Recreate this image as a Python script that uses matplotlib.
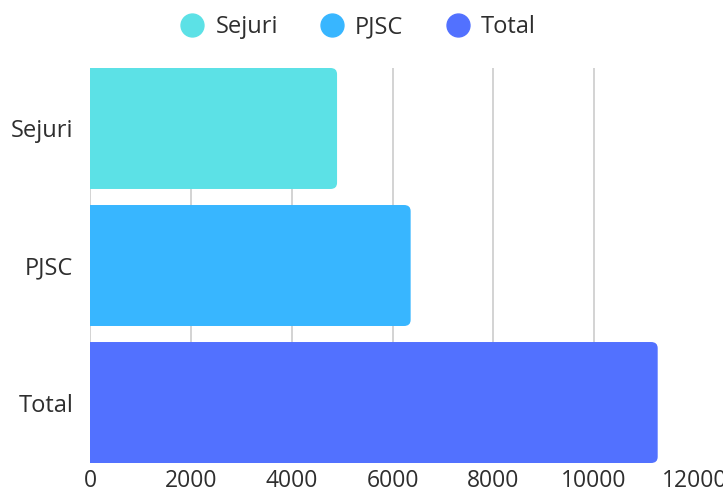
import matplotlib
matplotlib.use("Agg")
import matplotlib.pyplot as plt
from matplotlib.patches import FancyBboxPatch
from matplotlib.lines import Line2D

categories = ["Sejuri", "PJSC", "Total"]
values = [4900, 6360, 11260]
colors = ["#5ce1e6", "#38b6ff", "#5271ff"]
xticks = [0, 2000, 4000, 6000, 8000, 10000, 12000]

plt.rcParams['font.family'] = ['Open Sans', 'DejaVu Sans']

fig = plt.figure(figsize=(7.23, 4.93), dpi=100)
ax = fig.add_axes([90/723, 1-463/493, (695-90)/723, (463-68)/493])

ypos = list(range(len(categories)))
height = 0.883
bars = ax.barh(ypos, values, height=height, color=colors)

# replace with rounded-corner boxes derived from bar geometry
rx = 130.0
ry = 0.045
for b, c in zip(bars, colors):
    b.set_visible(False)
    x0 = b.get_x()
    y0 = b.get_y()
    w = b.get_width()
    h = b.get_height()
    p = FancyBboxPatch((x0 - rx, y0), w + rx, h,
                       boxstyle=f"round,pad=0,rounding_size={rx}",
                       mutation_aspect=ry / rx,
                       facecolor=c, edgecolor="none", clip_on=True, zorder=3)
    ax.add_patch(p)

ax.set_xlim(0, 12000)
ax.set_ylim(len(categories) - 1 + height / 2, -height / 2)
ax.set_yticks(ypos)
ax.set_yticklabels(categories)
ax.set_xticks(xticks)
ax.set_xticklabels([str(t) for t in xticks])
ax.tick_params(axis='both', length=0, colors="#2e2e2e")
ax.tick_params(axis='x', pad=4, labelsize=16.5)
ax.tick_params(axis='y', pad=12, labelsize=17)
for s in ax.spines.values():
    s.set_visible(False)
ax.grid(axis='x', color="#cccccc", linewidth=1.2, zorder=0)
ax.set_axisbelow(True)
ax.xaxis.get_gridlines()[-1].set_visible(False)

handles = [Line2D([], [], marker='o', linestyle='none', markersize=16.5,
                  markerfacecolor=c, markeredgecolor=c) for c in colors]
fig.legend(handles, categories, loc='center', bbox_to_anchor=(358/723, 1-27/493),
           ncol=3, frameon=False, fontsize=17, handlelength=1.0,
           handletextpad=0.47, columnspacing=1.8, labelcolor="#2e2e2e",
           borderpad=0, borderaxespad=0)

fig.savefig("out.png", dpi=100)
